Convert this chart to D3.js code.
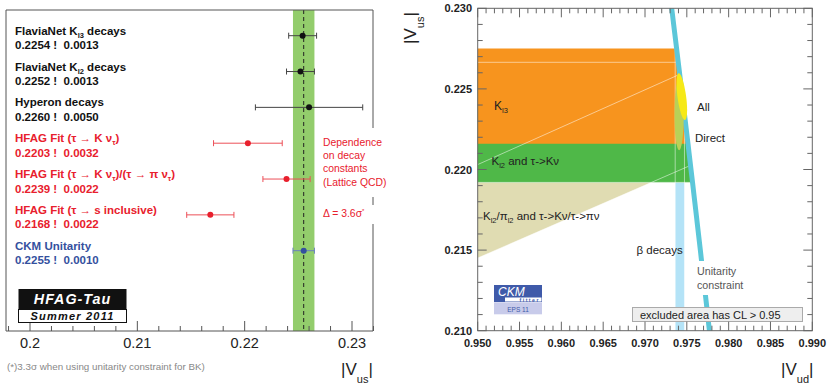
<!DOCTYPE html>
<html>
<head>
<meta charset="utf-8">
<script src="https://cdn.jsdelivr.net/npm/d3@7"></script>
<style>
  body { margin: 0; background: #fff; }
  svg { display: block; }
  text { font-family: "Liberation Sans", Arial, sans-serif; }
</style>
</head>
<body>
<svg id="chart" width="830" height="387"></svg>
<script>
// ---- left panel data: Vus determinations ----
const labels = [
  "FlaviaNet K_{l3} decays",
  "FlaviaNet K_{l2} decays",
  "Hyperon decays",
  "HFAG Fit (τ → K ν_{τ})",
  "HFAG Fit (τ → K ν_{τ})/(τ → π ν_{τ})",
  "HFAG Fit (τ → s inclusive)",
  "CKM Unitarity"
];
const values = [0.2254, 0.2252, 0.2260, 0.2203, 0.2239, 0.2168, 0.2255];
const errors = [0.0013, 0.0013, 0.0050, 0.0032, 0.0022, 0.0022, 0.0010];
const groups = ["other", "other", "other", "tau", "tau", "tau", "unitarity"];
const bandValue = 0.2255, bandError = 0.0010;
const leftTicks = [0.20, 0.21, 0.22, 0.23];

// ---- right panel data: Vud vs Vus constraints ----
const kl3Range = [0.2216, 0.2275];      // Vus
const kl2Range = [0.2192, 0.22665];     // Vus
const ratioRange = [0.2258, 0.2319];    // Vus/Vud
const betaRange = [0.97361, 0.97472];   // Vud
const unitarityWidth = 0.0003;
// [Vud centre, Vus centre, half-width Vud, half-length Vus, shear]
const ellipseDirect = [0.97408, 0.22340, 0.00055, 0.0022, 0];
const ellipseAll = [0.97440, 0.22452, 0.00052, 0.00145, -0.25];
const vudTicks = [0.950, 0.955, 0.960, 0.965, 0.970, 0.975, 0.980, 0.985, 0.990];
const vusTicks = [0.210, 0.215, 0.220, 0.225, 0.230];

const svg = d3.select("#chart");

const colors = {other: "#111", tau: "#e8202d", unitarity: "#34509e"};
const barColors = {other: "#444", tau: "#ec5058", unitarity: "#6a80bf"};

// write "a_{b}" labels with subscripts
function richText(sel, str, subSize) {
  const parts = str.split(/_\{([^}]*)\}/);
  let shift = 0;
  parts.forEach((p, i) => {
    if (!p) return;
    const ts = sel.append("tspan").text(p);
    if (i % 2 === 1) {
      ts.attr("font-size", subSize).attr("dy", 3 - shift);
      shift = 3;
    } else if (shift) {
      ts.attr("dy", -shift);
      shift = 0;
    }
  });
}

// ================= left panel =================
const xL = d3.scaleLinear().domain([0.2, 0.23]).range([30, 352]);
const rowY = d3.scaleLinear().domain([0, labels.length - 1]).range([35.7, 250.7]);
const frameL = {x0: 6, x1: 373, y0: 10, y1: 331};

const left = svg.append("g");

left.append("rect")
  .attr("x", xL(bandValue - bandError)).attr("y", frameL.y0)
  .attr("width", xL(bandValue + bandError) - xL(bandValue - bandError))
  .attr("height", frameL.y1 - frameL.y0)
  .attr("fill", "#93cd6c");
left.append("line")
  .attr("x1", xL(bandValue)).attr("x2", xL(bandValue))
  .attr("y1", frameL.y0).attr("y2", frameL.y1)
  .attr("stroke", "#222").attr("stroke-width", 1).attr("stroke-dasharray", "4,3");

left.append("path")
  .attr("d", `M${frameL.x0},${frameL.y1}V${frameL.y0}H${frameL.x1}V${frameL.y1}H${frameL.x0}`)
  .attr("fill", "none").attr("stroke", "#555").attr("stroke-width", 1);

// ticks, minor every 0.002
const minorL = d3.range(0.198, 0.2321, 0.002);
left.selectAll(".tickL").data(minorL).join("line")
  .attr("x1", d => xL(d)).attr("x2", d => xL(d))
  .attr("y1", frameL.y1)
  .attr("y2", d => frameL.y1 - (Math.abs(d * 100 - Math.round(d * 100)) < 1e-6 ? 10 : 5))
  .attr("stroke", "#555");
left.selectAll(".tlabL").data(leftTicks).join("text")
  .attr("x", d => xL(d)).attr("y", 348)
  .attr("text-anchor", "middle")
  .attr("font-family", "Liberation Serif, Times New Roman, serif")
  .attr("font-size", 14.5).attr("fill", "#222")
  .text(d => d3.format("")(+d.toFixed(2)));

// error bars and points
const rows = left.selectAll(".row").data(values).join("g");
rows.append("line")
  .attr("x1", (d, i) => xL(d - errors[i])).attr("x2", (d, i) => xL(d + errors[i]))
  .attr("y1", (d, i) => rowY(i)).attr("y2", (d, i) => rowY(i))
  .attr("stroke", (d, i) => barColors[groups[i]]).attr("stroke-width", 1);
[-1, 1].forEach(s => {
  rows.append("line")
    .attr("x1", (d, i) => xL(d + s * errors[i])).attr("x2", (d, i) => xL(d + s * errors[i]))
    .attr("y1", (d, i) => rowY(i) - 3).attr("y2", (d, i) => rowY(i) + 3)
    .attr("stroke", (d, i) => barColors[groups[i]]).attr("stroke-width", 1);
});
rows.append("circle")
  .attr("cx", d => xL(d)).attr("cy", (d, i) => rowY(i)).attr("r", 3)
  .attr("fill", (d, i) => colors[groups[i]]);

// row labels
labels.forEach((lab, i) => {
  const t = left.append("text").attr("x", 15).attr("y", rowY(i) - 1)
    .attr("font-size", 11.5).attr("font-weight", "bold").attr("fill", colors[groups[i]]);
  richText(t, lab, 7.5);
  left.append("text").attr("x", 15).attr("y", rowY(i) + 13.5)
    .attr("font-size", 11.5).attr("font-weight", "bold").attr("fill", colors[groups[i]])
    .attr("xml:space", "preserve")
    .text(`${values[i].toFixed(4)} !  ${errors[i].toFixed(4)}`);
});

// annotation (breaks the right frame)
left.append("rect").attr("x", 318).attr("y", 128).attr("width", 72).attr("height", 69).attr("fill", "#fff");
left.append("rect").attr("x", 318).attr("y", 205).attr("width", 72).attr("height", 19).attr("fill", "#fff");
["Dependence", "on decay", "constants", "(Lattice QCD)"].forEach((s, i) => {
  left.append("text").attr("x", 323).attr("y", 145.5 + i * 13.4)
    .attr("font-family", "DejaVu Sans, sans-serif").attr("font-size", 10.4)
    .attr("fill", "#e8202d").text(s);
});
left.append("text").attr("x", 323).attr("y", 217)
  .attr("font-family", "DejaVu Sans, sans-serif").attr("font-size", 10.4)
  .attr("fill", "#e8202d")
  .html('Δ = 3.6σ<tspan font-size="6" dy="-4">*</tspan>');

// HFAG box
left.append("rect").attr("x", 18.5).attr("y", 289).attr("width", 108).attr("height", 20.5).attr("fill", "#111");
left.append("rect").attr("x", 18.5).attr("y", 309.5).attr("width", 108).attr("height", 13)
  .attr("fill", "#fff").attr("stroke", "#111").attr("stroke-width", 1);
left.append("text").attr("x", 72.5).attr("y", 304).attr("text-anchor", "middle")
  .attr("font-size", 14.3).attr("font-weight", "bold").attr("font-style", "italic")
  .attr("letter-spacing", 1).attr("fill", "#fff").text("HFAG-Tau");
left.append("text").attr("x", 72.5).attr("y", 320).attr("text-anchor", "middle")
  .attr("font-size", 11).attr("font-weight", "bold").attr("font-style", "italic")
  .attr("letter-spacing", 1.2).attr("fill", "#111").text("Summer 2011");

left.append("text").attr("x", 7).attr("y", 370)
  .attr("font-family", "DejaVu Sans, sans-serif").attr("font-size", 9.8).attr("fill", "#888")
  .text("(*)3.3σ when using unitarity constraint for BK)");

const axTitleL = left.append("text").attr("x", 341).attr("y", 375)
  .attr("font-family", "Liberation Serif, Times New Roman, serif").attr("font-size", 17).attr("fill", "#222");
axTitleL.append("tspan").text("|V");
axTitleL.append("tspan").attr("font-size", 11).attr("dy", 8).text("us");
axTitleL.append("tspan").attr("dy", -8).text("|");

// ================= right panel =================
const xR = d3.scaleLinear().domain([0.95, 0.99]).range([477.7, 812.3]);
const yR = d3.scaleLinear().domain([0.21, 0.23]).range([330.7, 8.3]);
const unit = us => Math.sqrt(1 - us * us);
const line = d3.line().x(d => xR(d[0])).y(d => yR(d[1]));
const usGrid = d3.range(0.205, 0.2352, 0.0005);

const defs = svg.append("defs");
defs.append("clipPath").attr("id", "frameClip").append("rect")
  .attr("x", xR(0.95)).attr("y", yR(0.23))
  .attr("width", xR(0.99) - xR(0.95)).attr("height", yR(0.21) - yR(0.23));
defs.append("clipPath").attr("id", "unitClip").append("path")
  .attr("d", line([[0.94, 0.205], ...usGrid.map(u => [unit(u), u]), [0.94, 0.2352]]) + "Z");

const right = svg.append("g");
const plot = right.append("g").attr("clip-path", "url(#frameClip)");
const allowed = plot.append("g").attr("clip-path", "url(#unitClip)");

const rectPoly = (ud0, ud1, us0, us1) => [[ud0, us0], [ud1, us0], [ud1, us1], [ud0, us1]];
const betaPoly = rectPoly(betaRange[0], betaRange[1], 0.2, 0.24);
const ratioPoly = [[0.94, 0.94 * ratioRange[0]], [1.0, ratioRange[0]], [1.0, ratioRange[1]], [0.94, 0.94 * ratioRange[1]]];
const kl2Poly = rectPoly(0.94, 1.0, kl2Range[0], kl2Range[1]);
const kl3Poly = rectPoly(0.94, 1.0, kl3Range[0], kl3Range[1]);

allowed.append("path").attr("d", line(betaPoly) + "Z").attr("fill", "#b4e3f7");
allowed.append("path").attr("d", line(ratioPoly) + "Z").attr("fill", "#e0dcb2");
allowed.append("path").attr("d", line(kl2Poly) + "Z").attr("fill", "#4fb848");
allowed.append("path").attr("d", line(kl3Poly) + "Z").attr("fill", "#f7941e");
// outlines of the constraint regions
[ratioPoly, kl2Poly, betaPoly].forEach(p => {
  allowed.append("path").attr("d", line(p) + "Z").attr("fill", "none")
    .attr("stroke", "#fff").attr("stroke-opacity", 0.5).attr("stroke-width", 1);
});

// unitarity band
const uBand = usGrid.map(u => [unit(u) - unitarityWidth, u])
  .concat(usGrid.slice().reverse().map(u => [unit(u) + unitarityWidth, u]));
plot.append("path").attr("d", line(uBand) + "Z").attr("fill", "#5cc7d9");

// fit ellipses
function ellipsePts(e) {
  return d3.range(0, 2 * Math.PI + 0.01, Math.PI / 40).map(t => {
    const dus = e[3] * Math.sin(t);
    return [e[0] + e[2] * Math.cos(t) + e[4] * dus, e[1] + dus];
  });
}
plot.append("path").attr("d", line(ellipsePts(ellipseDirect)) + "Z").attr("fill", "#b8d158");
plot.append("path").attr("d", line(ellipsePts(ellipseAll)) + "Z").attr("fill", "#f6e917");

// labels
const lab = (x, y, s, opt = {}) => {
  const t = plot.append("text").attr("x", x).attr("y", y)
    .attr("font-size", opt.size || 11.5).attr("fill", opt.fill || "#222");
  if (opt.family) t.attr("font-family", opt.family);
  richText(t, s, 7.5);
  return t;
};
plot.append("rect").attr("x", 694).attr("y", 261).attr("width", 80).attr("height", 34).attr("fill", "#fff");
lab(494, 110, "K_{l3}", {size: 12});
lab(697, 111, "All");
lab(695, 142, "Direct");
lab(491.5, 165, "K_{l2} and τ->Kν");
lab(483, 220, "K_{l2}/π_{l2} and τ->Kν/τ->πν");
lab(636.5, 254, "β decays");
lab(697, 275, "Unitarity", {family: "DejaVu Sans, sans-serif", size: 10.7, fill: "#555"});
lab(697, 289, "constraint", {family: "DejaVu Sans, sans-serif", size: 10.7, fill: "#555"});

// excluded area box
plot.append("rect").attr("x", 632.5).attr("y", 307.5).attr("width", 170).attr("height", 14)
  .attr("fill", "#eee").attr("stroke", "#aaa").attr("stroke-width", 1);
plot.append("text").attr("x", 640).attr("y", 318.5).attr("font-size", 11).attr("fill", "#222")
  .text("excluded area has CL > 0.95");

// CKMfitter logo
const logo = plot.append("g");
logo.append("rect").attr("x", 494).attr("y", 285).attr("width", 48).attr("height", 17).attr("fill", "#3f5aa9");
logo.append("rect").attr("x", 505).attr("y", 297.5).attr("width", 36.5).attr("height", 4).attr("fill", "#fff");
logo.append("text").attr("x", 498).attr("y", 295.5).attr("font-size", 12).attr("font-style", "italic")
  .attr("fill", "#fff").text("CKM");
logo.append("text").attr("x", 540).attr("y", 301.6).attr("text-anchor", "end").attr("font-size", 5.2)
  .attr("font-weight", "bold").attr("letter-spacing", 1.5).attr("fill", "#3f5aa9").text("fitter");
logo.append("rect").attr("x", 494).attr("y", 302.3).attr("width", 48).attr("height", 12).attr("fill", "#c8cbea");
logo.append("text").attr("x", 518).attr("y", 311.5).attr("text-anchor", "middle").attr("font-size", 6.5)
  .attr("fill", "#3f5aa9").text("EPS 11");

// frame and ticks
right.append("rect").attr("x", xR(0.95)).attr("y", yR(0.23))
  .attr("width", xR(0.99) - xR(0.95)).attr("height", yR(0.21) - yR(0.23))
  .attr("fill", "none").attr("stroke", "#666").attr("stroke-width", 1);
const isMajor = d => Math.abs(d * 200 - Math.round(d * 200)) < 1e-6;
const udMinor = d3.range(0.950, 0.9901, 0.001);
const usMinor = d3.range(0.210, 0.2301, 0.001);
[[yR(0.21), -1], [yR(0.23), 1]].forEach(([y0, s]) => {
  right.selectAll(null).data(udMinor).join("line")
    .attr("x1", d => xR(d)).attr("x2", d => xR(d))
    .attr("y1", y0).attr("y2", d => y0 + s * (isMajor(d) ? 9 : 5)).attr("stroke", "#666");
});
[[xR(0.95), 1], [xR(0.99), -1]].forEach(([x0, s]) => {
  right.selectAll(null).data(usMinor).join("line")
    .attr("y1", d => yR(d)).attr("y2", d => yR(d))
    .attr("x1", x0).attr("x2", d => x0 + s * (isMajor(d) ? 9 : 5)).attr("stroke", "#666");
});
right.selectAll(".xlab").data(vudTicks).join("text")
  .attr("x", d => xR(d)).attr("y", 347).attr("text-anchor", "middle")
  .attr("font-size", 11).attr("font-weight", "bold").attr("fill", "#222")
  .text(d => d.toFixed(3));
right.selectAll(".ylab").data(vusTicks).join("text")
  .attr("x", 472).attr("y", d => yR(d) + 4).attr("text-anchor", "end")
  .attr("font-size", 11).attr("font-weight", "bold").attr("fill", "#222")
  .text(d => d.toFixed(3));

const axTitleX = right.append("text").attr("x", 781).attr("y", 375)
  .attr("font-family", "Liberation Serif, Times New Roman, serif").attr("font-size", 17).attr("fill", "#222");
axTitleX.append("tspan").text("|V");
axTitleX.append("tspan").attr("font-size", 11).attr("dy", 8).text("ud");
axTitleX.append("tspan").attr("dy", -8).text("|");

const axTitleY = right.append("text").attr("transform", "translate(416,44) rotate(-90)")
  .attr("font-family", "Liberation Serif, Times New Roman, serif").attr("font-size", 17).attr("fill", "#222");
axTitleY.append("tspan").text("|V");
axTitleY.append("tspan").attr("font-size", 11).attr("dy", 8).text("us");
axTitleY.append("tspan").attr("dy", -8).text("|");
</script>
</body>
</html>
